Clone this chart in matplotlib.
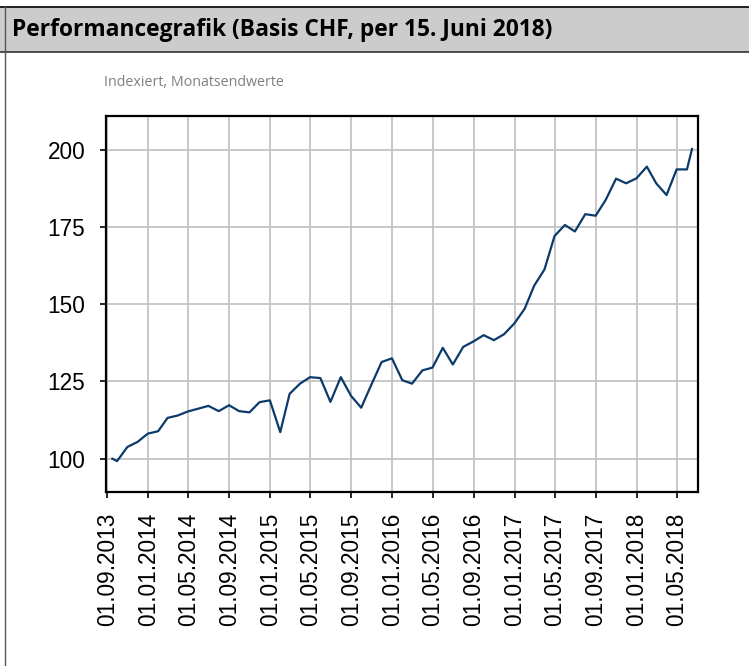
import numpy as np
import pandas as pd
import matplotlib
matplotlib.use("Agg")
import matplotlib.pyplot as plt
import matplotlib.dates as mdates
from matplotlib.patches import Rectangle
from matplotlib.lines import Line2D

# data (indexed, month-end values)
start_date = pd.Timestamp("2013-09-16")
end_date = pd.Timestamp("2018-06-15")
month_ends = pd.date_range("2013-09-30", "2018-05-31", freq="ME")
dates = [start_date] + list(month_ends) + [end_date]

values = [100.0,
          99.2, 103.8, 105.4, 108.1,                                      # 2013
          108.9, 113.2, 114.0, 115.3, 116.2, 117.1, 115.4, 117.3, 115.4, 115.0, 118.3, 118.9,  # 2014
          108.6, 121.0, 124.3, 126.4, 126.1, 118.4, 126.4, 120.3, 116.5, 124.1, 131.3, 132.5,  # 2015
          125.4, 124.3, 128.6, 129.5, 135.9, 130.5, 136.2, 138.0, 140.0, 138.4, 140.3, 143.8,  # 2016
          148.6, 156.0, 161.3, 172.1, 175.7, 173.6, 179.2, 178.7, 183.8, 190.7, 189.2, 190.8,  # 2017
          194.6, 189.2, 185.4, 193.7, 193.7,                                # 2018
          200.3]

tick_dates = pd.date_range("2013-09-01", "2018-05-01", freq="4MS")
y_ticks = [100, 125, 150, 175, 200]

title = "Performancegrafik (Basis CHF, per 15. Juni 2018)"
subtitle = "Indexiert, Monatsendwerte"

W, H = 749, 666
fig = plt.figure(figsize=(W / 100, H / 100), dpi=100)

# header band + frame
fig.patches.append(Rectangle((0, 1 - 52 / H), 1, 45 / H, transform=fig.transFigure,
                             facecolor="#cccccc", edgecolor="none", zorder=0))
fig.lines.append(Line2D([0, 1], [1 - 6.5 / H] * 2, transform=fig.transFigure, color="black", lw=1.2))
fig.lines.append(Line2D([0, 1], [1 - 52 / H] * 2, transform=fig.transFigure, color="#333333", lw=1.2))
fig.lines.append(Line2D([4.5 / W] * 2, [0, 1 - 6.5 / H], transform=fig.transFigure, color="#555555", lw=1.0))

fig.text(12 / W, 1 - 30 / H, title, ha="left", va="center", fontsize=16.4,
         fontweight="bold", family="Open Sans")
fig.text(104 / W, 1 - 83 / H, subtitle, ha="left", va="center", fontsize=10.3,
         color="#808080", family="Open Sans")

ax = fig.add_axes([106 / W, 1 - 492 / H, (698 - 106) / W, (492 - 116) / H])
ax.plot(dates, values, color="#0b3a6b", lw=1.6, zorder=3)

ax.set_xlim(pd.Timestamp("2013-08-28"), pd.Timestamp("2018-07-03"))
ax.set_ylim(89.2, 211.0)
ax.set_xticks(tick_dates)
ax.xaxis.set_major_formatter(mdates.DateFormatter("%d.%m.%Y"))
ax.set_yticks(y_ticks)

ax.grid(True, color="#c4c4c4", lw=1.3)
ax.set_axisbelow(True)
for s in ax.spines.values():
    s.set_linewidth(1.6)
ax.tick_params(axis="both", direction="out", length=4, width=1.2, pad=11,
               labelsize=16.3)
for lbl in ax.get_xticklabels() + ax.get_yticklabels():
    lbl.set_family("Liberation Sans")
plt.setp(ax.get_xticklabels(), rotation=90, va="top", ha="center")

fig.savefig("out.png", dpi=100)
